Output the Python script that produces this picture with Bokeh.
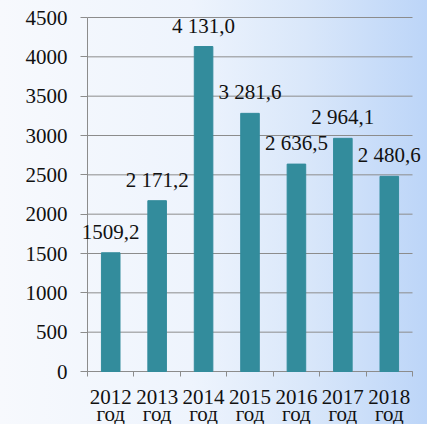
from bokeh.plotting import figure
from bokeh.models import FixedTicker, ColumnDataSource, Range1d
from bokeh.core.properties import value
from bokeh.embed import file_html
from bokeh.resources import INLINE

years = ["2012", "2013", "2014", "2015", "2016", "2017", "2018"]
suffix = "год"
values = [1509.2, 2171.2, 4131.0, 3281.6, 2636.5, 2964.1, 2480.6]
value_labels = ["1509,2", "2 171,2", "4 131,0", "3 281,6", "2 636,5", "2 964,1", "2 480,6"]
y_ticks = [0, 500, 1000, 1500, 2000, 2500, 3000, 3500, 4000, 4500]
y_max = 4500

FONT = "Liberation Serif"
GREY = "#8c8c8c"
BAR = "#338c9c"
TXT = "#111111"

W, H = 427, 424
# pixel layout of the plotting area inside the figure
LEFT, RIGHT, TOP, BOTTOM = 87, 412, 17, 371
n = len(years)
ux = (RIGHT - LEFT) / n          # pixels per category
uy = (BOTTOM - TOP) / y_max      # pixels per unit
x_range = Range1d(-LEFT / ux, n + (W - RIGHT) / ux)
y_range = Range1d(-(H - BOTTOM) / uy, y_max + TOP / uy)

xs = [i + 0.5 for i in range(n)]
src = ColumnDataSource(dict(x=xs, top=values, lab=value_labels,
                            year=years, suf=[suffix] * n))
grid_src = ColumnDataSource(dict(y=y_ticks, x0=[0] * len(y_ticks), x1=[n] * len(y_ticks)))

p = figure(width=W, height=H, output_backend="svg", toolbar_location=None,
           x_range=x_range, y_range=y_range, min_border=0,
           background_fill_alpha=0, border_fill_alpha=0,
           styles={"background": "linear-gradient(to right, #f7f9fd 0%, #eef4fd 45%, #d9e7fa 72%, #bcd5f8 100%)"})
p.outline_line_color = None
p.xgrid.grid_line_color = None
p.ygrid.grid_line_color = None

# horizontal grid lines, drawn only across the category area
p.segment(x0="x0", x1="x1", y0="y", y1="y", source=grid_src, line_color=GREY, line_width=1)
# axis lines
p.segment(x0=[0], x1=[0], y0=[0], y1=[y_max], line_color=GREY, line_width=1)
p.segment(x0=[0], x1=[n], y0=[0], y1=[0], line_color=GREY, line_width=1)

p.vbar(x="x", top="top", width=0.4, bottom=0, source=src, fill_color=BAR, line_color=BAR)

common = dict(source=src, text_font=value(FONT), text_font_size="21px",
              text_align="center", text_color=TXT)
p.text(x="x", y="top", text="lab", text_baseline="middle", y_offset=-21, **common)
p.text(x="x", y=0, text="year", text_baseline="alphabetic", y_offset=25, **common)
p.text(x="x", y=0, text="suf", text_baseline="alphabetic", y_offset=42, **common)

# y axis, pinned at x = 0 (ticks and labels only)
p.yaxis.fixed_location = 0
p.yaxis.ticker = FixedTicker(ticks=y_ticks)
p.yaxis.axis_line_color = None
p.yaxis.major_tick_line_color = GREY
p.yaxis.major_tick_out = 7
p.yaxis.major_tick_in = 0
p.yaxis.minor_tick_line_color = None
p.yaxis.major_label_text_font = FONT
p.yaxis.major_label_text_font_size = "21px"
p.yaxis.major_label_text_color = TXT
p.yaxis.major_label_standoff = 13

# x axis, pinned at y = 0, tick marks at category boundaries
p.xaxis.fixed_location = 0
p.xaxis.ticker = FixedTicker(ticks=[], minor_ticks=list(range(n + 1)))
p.xaxis.axis_line_color = None
p.xaxis.major_tick_line_color = None
p.xaxis.minor_tick_line_color = GREY
p.xaxis.minor_tick_out = 5
p.xaxis.minor_tick_in = 0

open("out.html", "w").write(file_html(p, INLINE))
